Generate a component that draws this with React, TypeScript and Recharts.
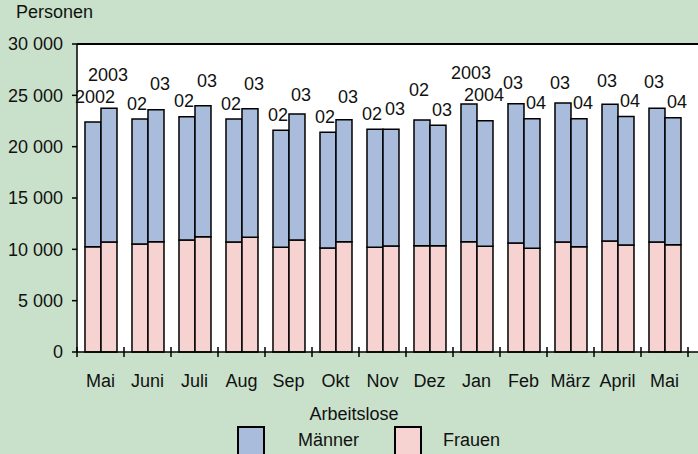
import React from "react";
import {
  Bar,
  BarChart,
  CartesianGrid,
  ReferenceLine,
  XAxis,
  YAxis,
} from "recharts";

const months = ["Mai", "Juni", "Juli", "Aug", "Sep", "Okt", "Nov", "Dez", "Jan", "Feb", "März", "April", "Mai"];

// Vorjahr (2002/03) und aktuelles Jahr (2003/04)
const frauenVorjahr = [10250, 10520, 10910, 10710, 10200, 10130, 10200, 10350, 10740, 10620, 10710, 10810, 10710];
const maennerVorjahr = [12150, 12170, 12010, 11980, 11390, 11270, 11490, 12250, 13410, 13570, 13540, 13310, 13020];
const frauenJahr = [10710, 10740, 11230, 11170, 10910, 10740, 10320, 10350, 10290, 10100, 10260, 10420, 10450];
const maennerJahr = [13020, 12860, 12760, 12530, 12270, 11890, 11370, 11730, 12240, 12620, 12460, 12530, 12370];

const labelVorjahr = ["2002", "02", "02", "02", "02", "02", "02", "02", "2003", "03", "03", "03", "03"];
const labelJahr = ["2003", "03", "03", "03", "03", "03", "03", "03", "2004", "04", "04", "04", "04"];

const yTicks = [0, 5000, 10000, 15000, 20000, 25000, 30000];

const data = months.map((m, i) => ({
  key: `${m}-${i}`,
  month: m,
  f1: frauenVorjahr[i],
  m1: maennerVorjahr[i],
  f2: frauenJahr[i],
  m2: maennerJahr[i],
}));

const BLUE = "#A9BCDC";
const PINK = "#F6D3D1";
const GREEN = "#C9E1CA";
const FONT = "'Liberation Sans', Arial, sans-serif";
const FS = 18;

function fmt(v: number) {
  return String(v).replace(/\B(?=(\d{3})+(?!\d))/g, " ");
}

function MonthTick(props: any) {
  const { x, y, payload, index } = props;
  const half = payload?.offset || 23.5;
  return (
    <g>
      <line x1={x - half} x2={x - half} y1={y - 5} y2={y + 5} stroke="#000" strokeWidth={1.5} />
      {index === months.length - 1 && (
        <line x1={x + half} x2={x + half} y1={y - 5} y2={y + 5} stroke="#000" strokeWidth={1.5} />
      )}
      <text x={x} y={y + 35} textAnchor="middle" fontSize={FS} fill="#111" fontFamily={FONT}>
        {months[index]}
      </text>
    </g>
  );
}

// Year label above each bar pair: the lower bar's label sits just above it,
// the taller bar's label is stacked higher so the two don't collide.
function makeLabel(
  labels: string[],
  ownF: number[],
  ownM: number[],
  otherF: number[],
  otherM: number[],
  second: boolean,
  dxShort: number,
  dxLong: number
) {
  return (props: any) => {
    const { x, y, width, height, index } = props;
    const text = labels[index];
    const long = text.length > 2;
    const unit = height / ownM[index];
    const diff = ownF[index] + ownM[index] - (otherF[index] + otherM[index]);
    const otherTop = y + diff * unit;
    const lowerTop = Math.max(y, otherTop);
    const higher = y < otherTop - 0.5 || (Math.abs(diff * unit) <= 0.5 && second);
    let center = lowerTop - (long ? 26 : 16);
    if (higher) center -= Math.abs(diff * unit) <= 0.5 ? 5 : long ? 22 : 20;
    return (
      <text
        x={x + width / 2 + (long ? dxLong : dxShort)}
        y={center + 6.5}
        textAnchor="middle"
        fontSize={FS}
        fill="#111"
        fontFamily={FONT}
      >
        {text}
      </text>
    );
  };
}

export default function App() {
  return (
    <div
      style={{
        position: "fixed",
        left: 0,
        top: 0,
        width: 698,
        height: 454,
        background: GREEN,
        fontFamily: FONT,
        overflow: "hidden",
      }}
    >
      <div style={{ position: "absolute", left: 16, top: 2, fontSize: FS, color: "#111" }}>Personen</div>
      <BarChart
        width={698}
        height={454}
        data={data}
        margin={{ top: 44, right: 0, bottom: 72, left: 0 }}
        barCategoryGap="17%"
        barGap={0}
      >
        <CartesianGrid fill="#fff" horizontal={false} vertical={false} />
        <XAxis
          dataKey="key"
          tick={<MonthTick />}
          tickLine={false}
          tickSize={0}
          tickMargin={0}
          height={30}
          padding={{ left: 0, right: 10 }}
          axisLine={{ stroke: "#000", strokeWidth: 1.5 }}
          interval={0}
        />
        <YAxis
          width={77}
          domain={[0, 30000]}
          ticks={yTicks}
          tickFormatter={fmt}
          tick={{ fill: "#111", fontSize: FS, fontFamily: FONT }}
          tickSize={5}
          tickMargin={9}
          tickLine={{ stroke: "#000", strokeWidth: 1.5 }}
          axisLine={{ stroke: "#000", strokeWidth: 1.5 }}
          interval={0}
        />
        <ReferenceLine y={30000} stroke="#000" strokeWidth={2} />
        <Bar dataKey="f1" stackId="y1" fill={PINK} stroke="#000" strokeWidth={1.5} isAnimationActive={false} />
        <Bar
          dataKey="m1"
          stackId="y1"
          fill={BLUE}
          stroke="#000"
          strokeWidth={1.5}
          isAnimationActive={false}
          label={makeLabel(labelVorjahr, frauenVorjahr, maennerVorjahr, frauenJahr, maennerJahr, false, -3, 2)}
        />
        <Bar dataKey="f2" stackId="y2" fill={PINK} stroke="#000" strokeWidth={1.5} isAnimationActive={false} />
        <Bar
          dataKey="m2"
          stackId="y2"
          fill={BLUE}
          stroke="#000"
          strokeWidth={1.5}
          isAnimationActive={false}
          label={makeLabel(labelJahr, frauenJahr, maennerJahr, frauenVorjahr, maennerVorjahr, true, 4, -1)}
        />
      </BarChart>
      <div
        style={{
          position: "absolute",
          left: 0,
          width: 708,
          top: 404,
          textAlign: "center",
          fontSize: FS,
          color: "#111",
        }}
      >
        Arbeitslose
      </div>
      <div
        style={{
          position: "absolute",
          left: 237,
          top: 426,
          width: 24,
          height: 30,
          background: BLUE,
          border: "2px solid #000",
        }}
      />
      <div style={{ position: "absolute", left: 298, top: 430, fontSize: FS, color: "#111" }}>Männer</div>
      <div
        style={{
          position: "absolute",
          left: 394,
          top: 426,
          width: 24,
          height: 30,
          background: PINK,
          border: "2px solid #000",
        }}
      />
      <div style={{ position: "absolute", left: 443, top: 430, fontSize: FS, color: "#111" }}>Frauen</div>
    </div>
  );
}
